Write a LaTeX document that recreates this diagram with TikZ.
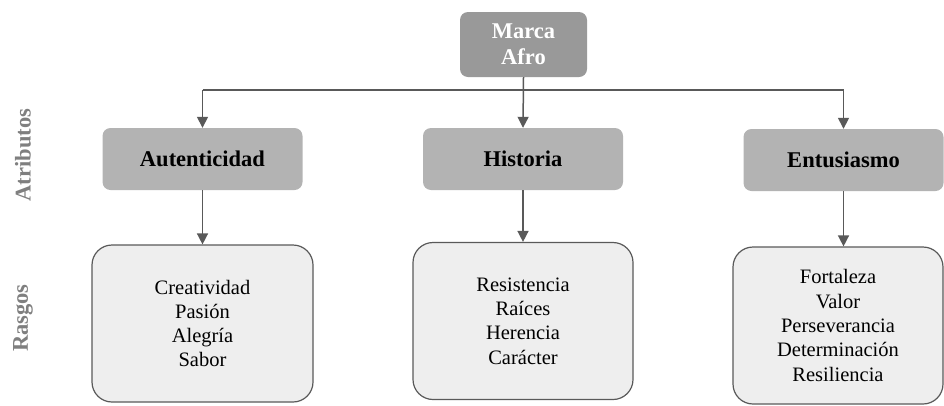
\documentclass[tikz,border=0pt]{standalone}
\usepackage{fontspec}
\setmainfont{Liberation Serif}[BoldFont={Liberation Serif Bold}]
\usetikzlibrary{arrows.meta}
\definecolor{linegray}{HTML}{595959}
\definecolor{topgray}{HTML}{999999}
\definecolor{attrgray}{HTML}{B3B3B3}
\definecolor{traitgray}{HTML}{EEEEEE}
\definecolor{labelgray}{HTML}{7F7F7F}
\tikzset{
        topbox/.style={fill=topgray, rounded corners=8pt, minimum width=127pt, minimum height=65pt,
                align=center, text=white, font=\rmfamily\fontsize{22.5}{26}\selectfont\bfseries},
        attrbox/.style={fill=attrgray, rounded corners=8pt, minimum width=200pt, minimum height=62pt,
                font=\rmfamily\fontsize{22.5}{24}\selectfont\bfseries},
        traitbox/.style={fill=traitgray, draw=linegray, line width=1.2pt, rounded corners=20pt,
                minimum height=157pt, align=center, font=\rmfamily\fontsize{20.5}{24.3}\selectfont},
        rowlabel/.style={rotate=90, text=labelgray, font=\rmfamily\fontsize{22.5}{24}\selectfont\bfseries},
        arr/.style={draw=linegray, line width=1.5pt, -{Triangle[width=11pt,length=11pt]}},
        bar/.style={draw=linegray, line width=1.5pt}
}
\begin{document}
\begin{tikzpicture}[x=1pt, y=-1pt]
        \useasboundingbox (0,0) rectangle (944,405);
        \node (marca) [topbox] at (523.5, 44.5) {Marca\\Afro};
        \node (aut) [attrbox] at (202.5, 159) {Autenticidad};
        \node (his) [attrbox] at (523, 159) {Historia};
        \node (ent) [attrbox] at (843.5, 160) {Entusiasmo};
        \node (t1) [traitbox, minimum width=221pt] at (202.5, 323.5) {Creatividad\\Pasión\\Alegría\\Sabor};
        \node (t2) [traitbox, minimum width=220pt] at (523, 321) {Resistencia\\Raíces\\Herencia\\Carácter};
        \node (t3) [traitbox, minimum width=210pt] at (838, 325.5) {Fortaleza\\Valor\\Perseverancia\\Determinación\\Resiliencia};
        \node (latr) [rowlabel] at (23, 155) {Atributos};
        \node (lras) [rowlabel] at (23, 318) {Rasgos};
        \coordinate (bus) at (0, 90);
        \draw [bar] (bus -| aut.north) -- (bus -| ent.north);
        \draw [arr] (bus -| aut.north) -- (aut.north);
        \draw [arr] (bus -| ent.north) -- (ent.north);
        \draw [arr] (marca.south) -- (his.north);
        \draw [arr] (aut.south) -- (t1.north);
        \draw [arr] (his.south) -- (t2.north);
        \draw [arr] (ent.south) -- (ent.south |- t3.north);
\end{tikzpicture}
\end{document}
